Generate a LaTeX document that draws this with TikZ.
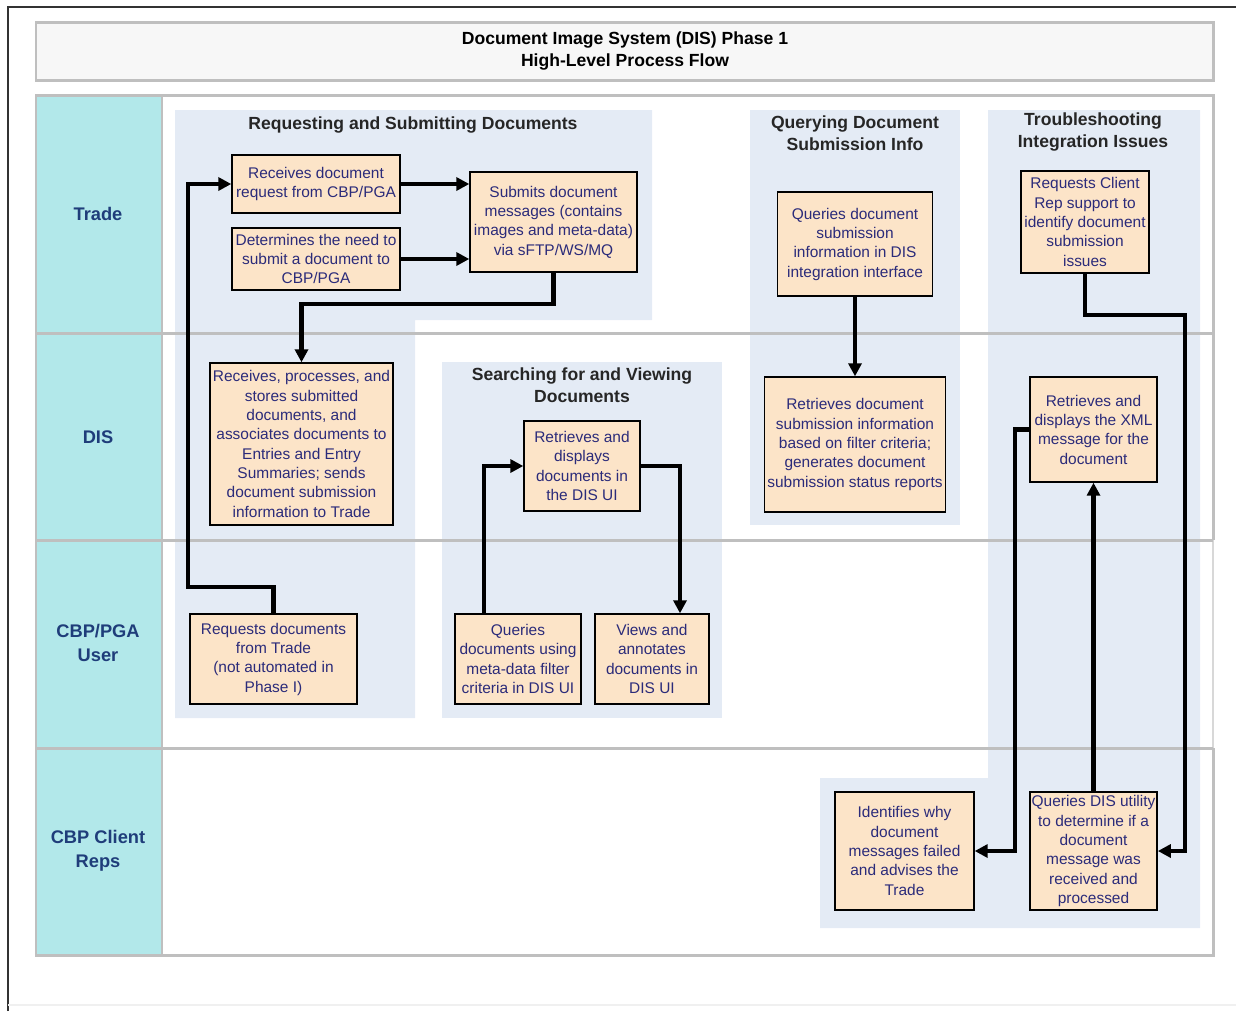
\documentclass[tikz,border=0pt]{standalone}
\usepackage{fontspec}
\setmainfont{Liberation Sans}
\usepackage{tikz}
\usetikzlibrary{positioning,arrows.meta}

\definecolor{lanecyan}{HTML}{B2E8EA}
\definecolor{groupbg}{HTML}{E4EBF5}
\definecolor{peach}{HTML}{FCE4C8}
\definecolor{boxtext}{HTML}{2B2B7A}
\definecolor{lanetext}{HTML}{1F3D7A}
\definecolor{gridgray}{HTML}{BFBFBF}
\definecolor{titlebg}{HTML}{F7F7F7}

\begin{document}
\begin{tikzpicture}[x=0.2mm, y=-0.2mm,
        task/.style={draw=black, line width=0.8pt, fill=peach, text=boxtext, align=center,
            font=\fontsize{8.8}{11}\selectfont, inner sep=1pt},
        flow/.style={line width=2.3pt, -{Triangle[length=2.6mm,width=2.6mm]}},
        lanelabel/.style={text=lanetext, align=center, font=\fontsize{10.4}{13.5}\selectfont\bfseries},
        grouptitle/.style={align=center, font=\fontsize{10}{12.5}\selectfont\bfseries, text=black!85},
        laneline/.style={draw=gridgray, line width=1.7pt}]
            \useasboundingbox (0,0) rectangle (1236,1011);

            % page frame
            \draw[black!80, line width=0.9pt] (8,1011) -- (8,7) -- (1236,7);
            \draw[black!6, line width=0.8pt]  (8,1005) -- (1236,1005);

            % title
            \draw[laneline, fill=titlebg] (36,22) rectangle (1213,80);
            \node[grouptitle, text=black, font=\fontsize{10}{12}\selectfont\bfseries] (title) at (625,51)
                {Document Image System (DIS) Phase 1\\High-Level Process Flow};

            % lane column
            \fill[lanecyan] (36,95) rectangle (162,955);

            % group backgrounds
            \fill[groupbg] (175,110) -- (652,110) -- (652,320) -- (415,320) -- (415,718) -- (175,718) -- cycle;
            \fill[groupbg] (442,362) rectangle (722,718);
            \fill[groupbg] (750,110) rectangle (960,525);
            \fill[groupbg] (988,110) -- (1200,110) -- (1200,928) -- (820,928) -- (820,778) -- (988,778) -- cycle;

            % lanes
            \draw[laneline] (1213,540) -- (1213,95) -- (36,95) -- (36,955) -- (1213,955) -- (1213,748);
            \draw[gridgray!60, line width=0.6pt] (1213,540) -- (1213,748);
            \draw[laneline] (162,95)  -- (162,955);
            \draw[laneline] (36,333)  -- (1213,333);
            \draw[laneline] (36,540)  -- (1213,540);
            \draw[laneline] (36,748)  -- (1213,748);

            \node[lanelabel] (trade) at (98,214) {Trade};
            \node[lanelabel] (dis)   at (98,437) {DIS};
            \node[lanelabel] (user)  at (98,643) {CBP/PGA\\User};
            \node[lanelabel] (reps)  at (98,851) {CBP Client\\Reps};

            \node[grouptitle] (grpsubmit)  at (413,125)  {Requesting and Submitting Documents};
            \node[grouptitle] (grpsearch)  at (582,385)  {Searching for and Viewing\\Documents};
            \node[grouptitle] (grpquery)   at (855,133)  {Querying Document\\Submission Info};
            \node[grouptitle] (grptrouble) at (1093,132) {Troubleshooting\\Integration Issues};

            % tasks
            \node[task, minimum width=33.6mm, minimum height=11.6mm] (recv)     at (316,184)
                {Receives document\\request from CBP/PGA};
            \node[task, minimum width=33.6mm, minimum height=12.4mm] (need)     at (316,259)
                {Determines the need to\\submit a document to\\CBP/PGA};
            \node[task, minimum width=33.4mm, minimum height=20mm]   (submit)   at (553.5,222)
                {Submits document\\messages (contains\\images and meta-data)\\via sFTP/WS/MQ};
            \node[task, minimum width=36.6mm, minimum height=32.4mm] (store)    at (301.5,444)
                {Receives, processes, and\\stores submitted\\documents, and\\associates documents to\\Entries and Entry\\Summaries; sends\\document submission\\information to Trade};
            \node[task, minimum width=33.4mm, minimum height=18mm]   (reqdocs)  at (273.5,659)
                {Requests documents\\from Trade\\(not automated in\\Phase I)};
            \node[task, minimum width=23.2mm, minimum height=18mm]   (display)  at (582,466)
                {Retrieves and\\displays\\documents in\\the DIS UI};
            \node[task, minimum width=25.2mm, minimum height=18mm]   (query)    at (518,659)
                {Queries\\documents using\\meta-data filter\\criteria in DIS UI};
            \node[task, minimum width=22.8mm, minimum height=18mm]   (annotate) at (652,659)
                {Views and\\annotates\\documents in\\DIS UI};
            \node[task, minimum width=31mm,   minimum height=20.8mm] (qinfo)    at (855,244)
                {Queries document\\submission\\information in DIS\\integration interface};
            \node[task, minimum width=36.2mm, minimum height=27mm]   (report)   at (855,444.5)
                {Retrieves document\\submission information\\based on filter criteria;\\generates document\\submission status reports};
            \node[task, minimum width=25.6mm, minimum height=20.4mm] (support)  at (1085,222)
                {Requests Client\\Rep support to\\identify document\\submission\\issues};
            \node[task, minimum width=25.4mm, minimum height=21mm]   (xml)      at (1093.5,429.5)
                {Retrieves and\\displays the XML\\message for the\\document};
            \node[task, minimum width=27.8mm, minimum height=23.6mm] (identify) at (904.5,851)
                {Identifies why\\document\\messages failed\\and advises the\\Trade};
            \node[task, minimum width=25.4mm, minimum height=23.6mm] (utility)  at (1093.5,851)
                {Queries DIS utility\\to determine if a\\document\\message was\\received and\\processed};

            % flows
            \coordinate (bend1) at (188,587);
            \coordinate (bend2) at (1185,315);
            \draw[flow] (reqdocs.north) |- (bend1) |- (recv.west);
            \draw[flow] (recv.east) -- (recv.east -| submit.west);
            \draw[flow] (need.east) -- (need.east -| submit.west);
            \draw[flow] (submit.south) -- ++(0,31) -| (store.north);
            \draw[flow] ([xshift=-6.8mm]query.north) |- (display.west);
            \draw[flow] (display.east) -| ([xshift=5.6mm]annotate.north);
            \draw[flow] (qinfo.south) -- (report.north);
            \draw[flow] (support.south) |- (bend2) |- (utility.east);
            \draw[flow] (xml.west) -- ++(-14,0) |- (identify.east);
            \draw[flow] (utility.north) -- (xml.south);
        \end{tikzpicture}
\end{document}
